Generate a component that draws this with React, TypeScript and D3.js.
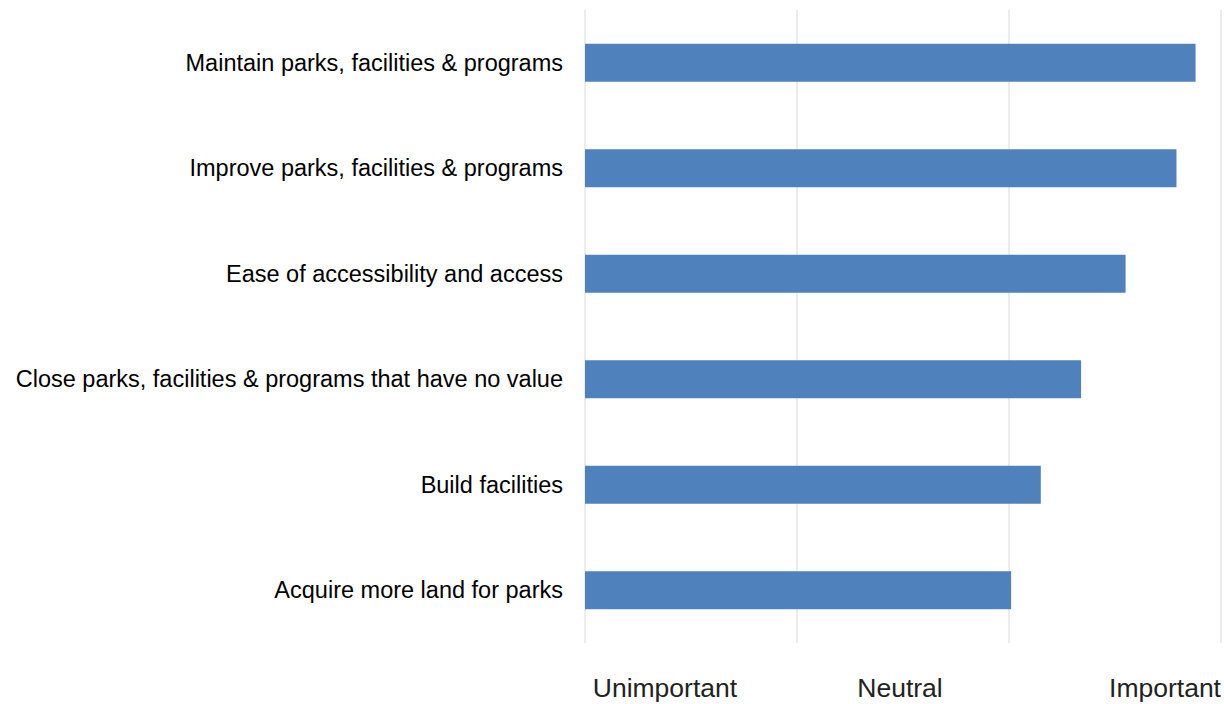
import React from 'react';
import * as d3 from 'd3';

const categories = [
  'Maintain parks, facilities & programs',
  'Improve parks, facilities & programs',
  'Ease of accessibility and access',
  'Close parks, facilities & programs that have no value',
  'Build facilities',
  'Acquire more land for parks',
];
const values = [3.88, 3.79, 3.55, 3.34, 3.15, 3.01];
const gridValues = [1, 2, 3, 4];
const axisLabels = ['Unimportant', 'Neutral', 'Important'];
const axisLabelPos = [1.377, 2.486, 3.736];

const width = 1224;
const height = 704;

const App: React.FC = () => {
  const x = d3.scaleLinear().domain([1, 4]).range([585, 1221]);
  const y = d3.scaleBand<string>().domain(categories).range([10, 643]).paddingInner(0.64).paddingOuter(0.32);

  return (
    <svg
      width={width}
      height={height}
      style={{ position: 'absolute', left: 0, top: 0, background: '#fff' }}
    >
      {/* gridlines */}
      {gridValues.map(v => (
        <line key={v} x1={x(v)} x2={x(v)} y1={10} y2={643} stroke="#d9d9d9" strokeWidth={1} />
      ))}

      {/* bars */}
      {categories.map((c, i) => (
        <rect
          key={c}
          x={x(1)}
          y={y(c)}
          width={x(values[i]) - x(1)}
          height={y.bandwidth()}
          fill="#4f81bd"
        />
      ))}

      {/* category labels */}
      {categories.map(c => (
        <text
          key={c}
          x={563}
          y={(y(c) || 0) + y.bandwidth() / 2}
          dy="0.35em"
          textAnchor="end"
          fontFamily="'Liberation Sans', Arial, sans-serif"
          fontSize={23.5}
          fill="#000"
        >
          {c}
        </text>
      ))}

      {/* axis labels */}
      {axisLabels.map((t, i) => (
        <text
          key={t}
          x={x(axisLabelPos[i])}
          y={697}
          textAnchor="middle"
          fontFamily="'Liberation Sans Narrow', 'Liberation Sans', Arial, sans-serif"
          fontSize={26.5}
          fill="#222"
        >
          {t}
        </text>
      ))}
    </svg>
  );
};

export default App;
